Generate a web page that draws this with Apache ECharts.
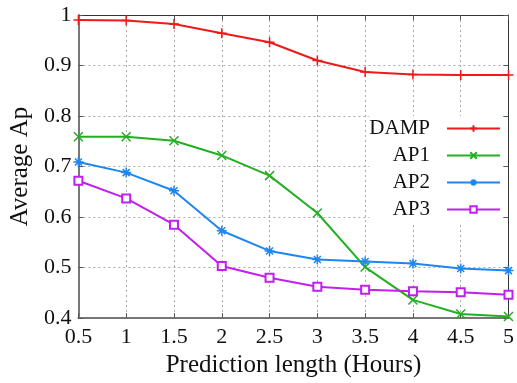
<!DOCTYPE html>
<html>
<head>
<meta charset="utf-8">
<script src="https://cdn.jsdelivr.net/npm/echarts@6/dist/echarts.min.js"></script>
<style>
  html, body { margin: 0; padding: 0; background: #fff; }
  #chart { width: 517px; height: 383px; }
</style>
</head>
<body>
<div id="chart"></div>
<script>
// prediction length (hours)
const hours = [0.5, 1, 1.5, 2, 2.5, 3, 3.5, 4, 4.5, 5]
const damp = [0.99, 0.989, 0.982, 0.964, 0.946, 0.91, 0.887, 0.882, 0.881, 0.881]
const ap1 = [0.759, 0.759, 0.751, 0.722, 0.682, 0.608, 0.501, 0.436, 0.408, 0.403]
const ap2 = [0.709, 0.688, 0.652, 0.573, 0.533, 0.516, 0.512, 0.508, 0.498, 0.494]
const ap3 = [0.672, 0.637, 0.585, 0.503, 0.48, 0.462, 0.456, 0.453, 0.451, 0.446]

const font = 'Liberation Serif'
const gridLine = { show: true, lineStyle: { color: '#aaa', type: [2, 3], width: 1 } }

const makeSeries = (name, values, color, symbol, size) => ({
  name,
  type: 'line',
  data: values.map((v, i) => [hours[i], v]),
  symbol,
  symbolSize: size,
  showAllSymbol: true,
  lineStyle: { color, width: 2 },
  itemStyle: { color, borderColor: color, borderWidth: 1.5 },
  emphasis: { disabled: true },
})

const chart = echarts.init(document.getElementById('chart'))
chart.setOption({
  animation: false,
  textStyle: { fontFamily: font },
  grid: { left: 77, right: 4, top: 15, bottom: 62 },
  legend: {
    orient: 'vertical',
    align: 'right',
    right: 16,
    top: 116,
    itemWidth: 53,
    itemHeight: 8,
    itemGap: 6,
    padding: [2, 0, 2, 0],
    backgroundColor: '#fff',
    textStyle: { fontFamily: font, fontSize: 21, color: '#111', padding: [0, 12, 0, 0] },
    data: ['DAMP', 'AP1', 'AP2', 'AP3'],
  },
  xAxis: [
    {
      type: 'value',
      min: 0.5,
      max: 5,
      interval: 0.5,
      name: 'Prediction length (Hours)',
      nameLocation: 'middle',
      nameGap: 32,
      nameTextStyle: { fontFamily: font, fontSize: 25, color: '#111', verticalAlign: 'top' },
      axisLine: { lineStyle: { color: '#777', width: 2 } },
      axisTick: { inside: true, length: 5, lineStyle: { color: '#555' } },
      axisLabel: { fontFamily: font, fontSize: 22, color: '#111', margin: 8 },
      splitLine: gridLine,
    },
    {
      type: 'value',
      position: 'top',
      min: 0.5,
      max: 5,
      interval: 0.5,
      axisLine: { lineStyle: { color: '#333', width: 1 } },
      axisTick: { inside: true, length: 5, lineStyle: { color: '#555' } },
      axisLabel: { show: false },
      splitLine: { show: false },
    },
  ],
  yAxis: [
    {
      type: 'value',
      min: 0.4,
      max: 1,
      interval: 0.1,
      name: 'Average Ap',
      nameLocation: 'middle',
      nameGap: 44,
      nameTextStyle: { fontFamily: font, fontSize: 25, color: '#111' },
      axisLine: { show: true, lineStyle: { color: '#777', width: 2 } },
      axisTick: { show: true, inside: true, length: 5, lineStyle: { color: '#555' } },
      axisLabel: {
        fontFamily: font,
        fontSize: 22,
        color: '#111',
        margin: 7,
        formatter: (v) => String(+v.toFixed(1)),
      },
      splitLine: gridLine,
    },
    {
      type: 'value',
      position: 'right',
      min: 0.4,
      max: 1,
      interval: 0.1,
      axisLine: { show: true, lineStyle: { color: '#333', width: 1 } },
      axisTick: { show: true, inside: true, length: 5, lineStyle: { color: '#555' } },
      axisLabel: { show: false },
      splitLine: { show: false },
    },
  ],
  series: [
    makeSeries('DAMP', damp, '#ee1a1a', 'path://M0,5L10,5M5,0L5,10', 10),
    makeSeries('AP1', ap1, '#22b022', 'path://M0,0L10,10M10,0L0,10', 9),
    makeSeries('AP2', ap2, '#1e86f0', 'path://M0,5L10,5M5,0L5,10M1.5,1.5L8.5,8.5M8.5,1.5L1.5,8.5', 10),
    makeSeries('AP3', ap3, '#c21ef0', 'emptyRect', 8),
  ],
})
</script>
</body>
</html>
